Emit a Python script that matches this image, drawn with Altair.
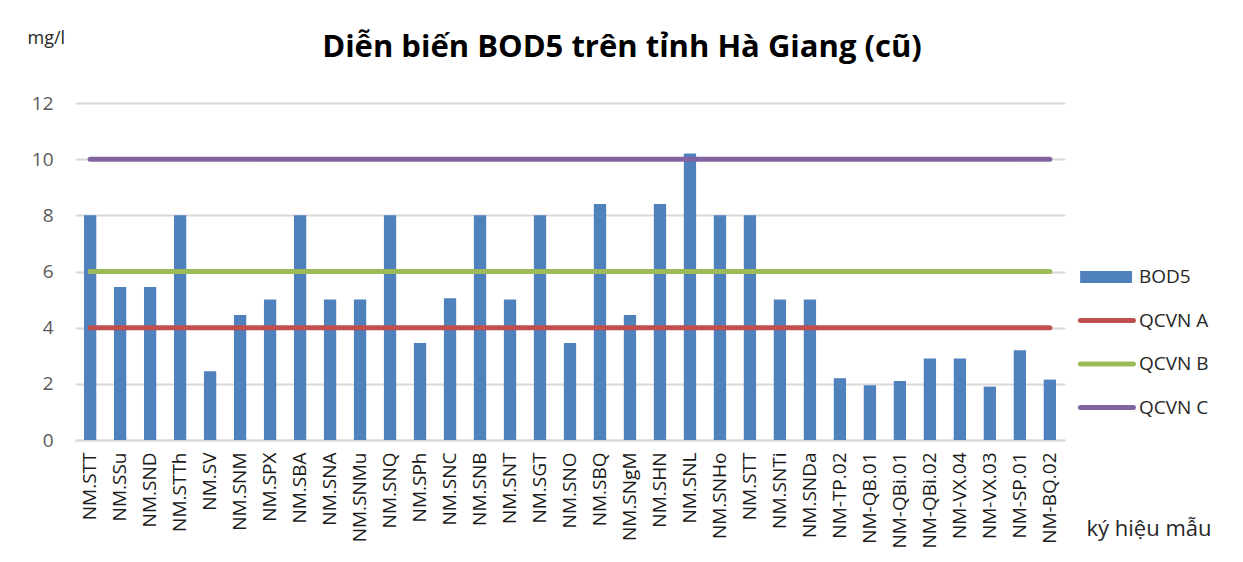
import json
import altair as alt
import pandas as pd

# ---- data ----
sample_labels = ["NM.STT", "NM.SSu", "NM.SND", "NM.STTh", "NM.SV", "NM.SNM", "NM.SPX",
                 "NM.SBA", "NM.SNA", "NM.SNMu", "NM.SNQ", "NM.SPh", "NM.SNC", "NM.SNB",
                 "NM.SNT", "NM.SGT", "NM.SNO", "NM.SBQ", "NM.SNgM", "NM.SHN", "NM.SNL",
                 "NM.SNHo", "NM.STT", "NM.SNTi", "NM.SNDa", "NM-TP.02", "NM-QB.01",
                 "NM-QBi.01", "NM-QBi.02", "NM-VX.04", "NM-VX.03", "NM-SP.01", "NM-BQ.02"]
bod5_values = [8.0, 5.45, 5.45, 8.0, 2.45, 4.45, 5.0, 8.0, 5.0, 5.0, 8.0, 3.45, 5.05,
               8.0, 5.0, 8.0, 3.45, 8.4, 4.45, 8.4, 10.2, 8.0, 8.0, 5.0, 5.0, 2.2,
               1.95, 2.1, 2.9, 2.9, 1.9, 3.2, 2.15]
standard_names = ["QCVN A", "QCVN B", "QCVN C"]
standard_values = [4, 6, 10]
series_names = ["BOD5"] + standard_names
series_colors = ["#4F81BD", "#C0504D", "#9BBB59", "#8064A2"]
y_ticks = [0, 2, 4, 6, 8, 10, 12]

title_text = "Diễn biến BOD5 trên tỉnh Hà Giang (cũ)"
y_title = "mg/l"
x_title = "ký hiệu mẫu"

FONT = "Open Sans"

idx = list(range(len(sample_labels)))
bars_df = pd.DataFrame({"idx": idx, "value": bod5_values, "series": "BOD5"})
lines_df = pd.DataFrame([
    {"idx": i, "value": v, "series": n, "hex": c}
    for n, v, c in zip(standard_names, standard_values, series_colors[1:])
    for i in idx
])
legend_df = pd.DataFrame({"series": series_names})

label_expr = json.dumps(sample_labels) + "[datum.value]"

x_enc = alt.X(
    "idx:O",
    scale=alt.Scale(domain=idx, paddingInner=0.59, paddingOuter=0.3),
    axis=alt.Axis(
        title=x_title, labelExpr=label_expr, labelAngle=-90, labelFont=FONT,
        labelFontSize=19, labelColor="#1a1a1a", labelPadding=12, ticks=False,
        tickSize=0, domainColor="#D9D9D9", domainWidth=2, grid=False,
        titleX=1011, titleY=95, titleAlign="left", titleBaseline="alphabetic",
        titleFont=FONT, titleFontSize=22, titleFontWeight="normal",
        titleColor="#262626", labelOverlap=False,
    ),
)
y_enc = alt.Y(
    "value:Q",
    scale=alt.Scale(domain=[0, 12], nice=False),
    axis=alt.Axis(
        title=y_title, values=y_ticks, domain=False, ticks=False, tickSize=0,
        labelFont=FONT, labelFontSize=19, labelColor="#595959", labelPadding=22,
        gridColor="#D9D9D9", gridWidth=2, titleAngle=0, titleX=-48, titleY=-60,
        titleAlign="left", titleBaseline="alphabetic", titleFont=FONT,
        titleFontSize=18, titleFontWeight="normal", titleColor="#262626",
    ),
)

bars = alt.Chart(bars_df).mark_bar(color=series_colors[0]).encode(x=x_enc, y=y_enc)

lines = alt.Chart(lines_df).mark_line(strokeWidth=5, strokeCap="round").encode(
    x=x_enc, y=y_enc, color=alt.Color("hex:N", scale=None), detail="series:N"
)

rect_path = "M -1.54 -0.27 L 0.82 -0.27 L 0.82 0.27 L -1.54 0.27 Z"
line_path = ("M -1.53 -0.114 L 0.886 -0.114 A 0.114 0.114 0 0 1 0.886 0.114 "
             "L -1.53 0.114 A 0.114 0.114 0 0 1 -1.53 -0.114 Z")
shape_range = [rect_path, line_path, line_path, line_path]

legend = alt.Legend(
    title=None, orient="none", legendX=1017, legendY=152, symbolSize=1936,
    labelFont=FONT, labelFontSize=19, labelColor="#262626", labelOffset=3,
    rowPadding=11.5, padding=0, symbolStrokeWidth=0, symbolOpacity=1,
)
legend_layer = alt.Chart(legend_df).mark_point(filled=True, opacity=1).encode(
    color=alt.Color("series:N", scale=alt.Scale(domain=series_names, range=series_colors),
                    legend=legend),
    shape=alt.Shape("series:N", scale=alt.Scale(domain=series_names, range=shape_range),
                    legend=legend),
).transform_filter("false")

chart = alt.layer(bars, lines, legend_layer).properties(
    width=990,
    height=337,
    padding={"left": 67, "top": 95, "right": 170, "bottom": 114},
    autosize=alt.AutoSizeParams(type="none"),
    background="white",
    title=alt.TitleParams(
        text=title_text, font=FONT, fontSize=31, fontWeight="bold", color="#000000",
        anchor="middle", dx=52, offset=0, dy=59, baseline="alphabetic",
    ),
).configure_view(stroke=None)

chart.save("out.html", embed_options={"renderer": "svg", "actions": False})
